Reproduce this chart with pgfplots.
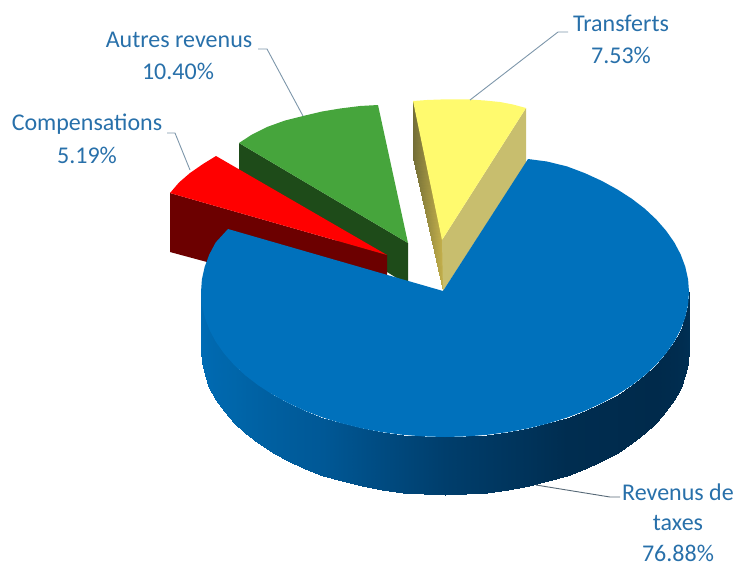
\documentclass[border=0pt]{standalone}
\usepackage{pgfplots}
\pgfplotsset{compat=1.18}
\usepackage{fontspec}
\setmainfont{Carlito}
\definecolor{lbl}{RGB}{40,112,170}
\definecolor{lead}{RGB}{125,150,170}
\definecolor{bluetop}{RGB}{0,113,188}
\definecolor{greentop}{RGB}{70,165,60}
\definecolor{greenside}{RGB}{30,75,25}
\definecolor{redside}{RGB}{108,0,0}
\definecolor{yellowtop}{RGB}{255,250,110}
\definecolor{yellowside}{RGB}{200,190,110}
\tikzset{lab/.style={font=\fontsize{24}{24}\selectfont, text=lbl, inner sep=0pt, anchor=center}}
\begin{document}
\begin{tikzpicture}
\begin{axis}[
  scale only axis, width=738pt, height=566pt,
  xmin=0, xmax=738, ymin=0, ymax=566, y dir=reverse,
  hide axis, clip=false,
  point meta min=0, point meta max=180,
  colormap={sidemap}{rgb255=(0,48,85) rgb255=(0,42,75) rgb255=(0,45,80) rgb255=(0,62,108) rgb255=(0,88,150) rgb255=(0,102,170) rgb255=(0,108,182)},
  colormap={ymap}{rgb255=(115,110,55) rgb255=(195,175,75)},
]
\addplot[draw=none, forget plot] coordinates {(0,0) (738,566)};
% green
\addplot[draw=none, fill=greenside, forget plot] coordinates {(239,143) (408,243) (408,285) (239,180)} -- cycle;
\addplot[draw=none, fill=greentop, forget plot] coordinates {(408,243) (239,143) (252,134.5) (267,127) (285,120.5) (303,116) (322,111.5) (340,108.5) (360,106) (378,105)} -- cycle;
% red
\addplot[draw=none, fill=redside, forget plot] coordinates {(170,193) (387,255) (387,280) (230,280) (207,262) (170,252)} -- cycle;
\addplot[draw=none, fill=red, forget plot] coordinates {(387,255) (170,193) (179,182.5) (190,173) (203,164) (216,156)} -- cycle;
% yellow
\addplot[patch, patch type=rectangle, shader=interp, point meta=explicit, colormap name=ymap, forget plot] coordinates {
 (413,101) [0] (442,240) [180] (443,291) [180] (413,158) [0]};
\addplot[draw=none, fill=yellowside, forget plot] coordinates {(442,240) (526,108) (526,163) (443,291)} -- cycle;
\addplot[draw=none, fill=yellowtop, forget plot] coordinates {(442,240) (413,101) (427,100) (440,99.5) (455,99.3) (470,99.5) (485,100.5) (500,102) (513,104.5) (526,108)} -- cycle;
% blue side
\addplot[patch, patch type=rectangle, shader=interp, point meta=explicit, colormap name=sidemap, forget plot] coordinates {
 (689,292) [0] (688.1,304.6) [5] (688.1,362.6) [5] (689,350) [0]
 (688.1,304.6) [5] (685.3,317.2) [10] (685.3,375.2) [10] (688.1,362.6) [5]
 (685.3,317.2) [10] (680.7,329.5) [15] (680.7,387.5) [15] (685.3,375.2) [10]
 (680.7,329.5) [15] (674.3,341.6) [20] (674.3,399.6) [20] (680.7,387.5) [15]
 (674.3,341.6) [20] (666.1,353.3) [25] (666.1,411.3) [25] (674.3,399.6) [20]
 (666.1,353.3) [25] (656.3,364.5) [30] (656.3,422.5) [30] (666.1,411.3) [25]
 (656.3,364.5) [30] (644.9,375.2) [35] (644.9,433.2) [35] (656.3,422.5) [30]
 (644.9,375.2) [35] (631.9,385.2) [40] (631.9,443.2) [40] (644.9,433.2) [35]
 (631.9,385.2) [40] (617.5,394.5) [45] (617.5,452.5) [45] (631.9,443.2) [40]
 (617.5,394.5) [45] (601.8,403.1) [50] (601.8,461.1) [50] (617.5,452.5) [45]
 (601.8,403.1) [50] (585,410.8) [55] (585,468.8) [55] (601.8,461.1) [50]
 (585,410.8) [55] (567,417.6) [60] (567,475.6) [60] (585,468.8) [55]
 (567,417.6) [60] (548.1,423.4) [65] (548.1,481.4) [65] (567,475.6) [60]
 (548.1,423.4) [65] (528.5,428.3) [70] (528.5,486.3) [70] (548.1,481.4) [65]
 (528.5,428.3) [70] (508.1,432.1) [75] (508.1,490.1) [75] (528.5,486.3) [70]
 (508.1,432.1) [75] (487.4,434.8) [80] (487.4,492.8) [80] (508.1,490.1) [75]
 (487.4,434.8) [80] (466.3,436.4) [85] (466.3,494.4) [85] (487.4,492.8) [80]
 (466.3,436.4) [85] (445,437) [90] (445,495) [90] (466.3,494.4) [85]
 (445,437) [90] (423.7,436.4) [95] (423.7,494.4) [95] (445,495) [90]
 (423.7,436.4) [95] (402.6,434.8) [100] (402.6,492.8) [100] (423.7,494.4) [95]
 (402.6,434.8) [100] (381.9,432.1) [105] (381.9,490.1) [105] (402.6,492.8) [100]
 (381.9,432.1) [105] (361.5,428.3) [110] (361.5,486.3) [110] (381.9,490.1) [105]
 (361.5,428.3) [110] (341.9,423.4) [115] (341.9,481.4) [115] (361.5,486.3) [110]
 (341.9,423.4) [115] (323,417.6) [120] (323,475.6) [120] (341.9,481.4) [115]
 (323,417.6) [120] (305,410.8) [125] (305,468.8) [125] (323,475.6) [120]
 (305,410.8) [125] (288.2,403.1) [130] (288.2,461.1) [130] (305,468.8) [125]
 (288.2,403.1) [130] (272.5,394.5) [135] (272.5,452.5) [135] (288.2,461.1) [130]
 (272.5,394.5) [135] (258.1,385.2) [140] (258.1,443.2) [140] (272.5,452.5) [135]
 (258.1,385.2) [140] (245.1,375.2) [145] (245.1,433.2) [145] (258.1,443.2) [140]
 (245.1,375.2) [145] (233.7,364.5) [150] (233.7,422.5) [150] (245.1,433.2) [145]
 (233.7,364.5) [150] (223.9,353.3) [155] (223.9,411.3) [155] (233.7,422.5) [150]
 (223.9,353.3) [155] (215.7,341.6) [160] (215.7,399.6) [160] (223.9,411.3) [155]
 (215.7,341.6) [160] (209.3,329.5) [165] (209.3,387.5) [165] (215.7,399.6) [160]
 (209.3,329.5) [165] (204.7,317.2) [170] (204.7,375.2) [170] (209.3,387.5) [165]
 (204.7,317.2) [170] (201.9,304.6) [175] (201.9,362.6) [175] (204.7,375.2) [170]
 (201.9,304.6) [175] (201,292) [180] (201,350) [180] (201.9,362.6) [175]
};
% blue top
\addplot[draw=none, fill=bluetop, forget plot] coordinates {
 (443,291) (528,159) (547,161.5) (567,166.4) (585,173.2) (601.8,180.9) (617.5,189.5) (631.9,198.8) (644.9,208.8) (656.3,219.5) (666.1,230.7) (674.3,242.4) (680.7,254.5) (685.3,266.8) (688.1,279.4) (689,292)
 (688.1,304.6) (685.3,317.2) (680.7,329.5) (674.3,341.6) (666.1,353.3) (656.3,364.5) (644.9,375.2) (631.9,385.2) (617.5,394.5) (601.8,403.1) (585,410.8) (567,417.6) (548.1,423.4) (528.5,428.3) (508.1,432.1) (487.4,434.8) (466.3,436.4) (445,437)
 (423.7,436.4) (402.6,434.8) (381.9,432.1) (361.5,428.3) (341.9,423.4) (323,417.6) (305,410.8) (288.2,403.1) (272.5,394.5) (258.1,385.2) (245.1,375.2) (233.7,364.5) (223.9,353.3) (215.7,341.6) (209.3,329.5) (204.7,317.2) (201.9,304.6) (201,292)
 (201.9,279.4) (204.7,266.8) (209.3,254.5) (215.7,242.4) (228,229)} -- cycle;
% leaders
\addplot[lead, line width=0.9pt, forget plot] coordinates {(258,49) (267,49) (303,116)};
\addplot[lead, line width=0.9pt, forget plot] coordinates {(167,133) (175,133) (190,170)};
\addplot[lead, line width=0.9pt, forget plot] coordinates {(470,100) (558,32) (568,32)};
\addplot[lead!70!black, line width=0.9pt, forget plot] coordinates {(536,485) (610,497) (620,497)};
% labels
\node[lab] at (axis cs:179,40) {Autres revenus};
\node[lab] at (axis cs:178,71) {10.40\%};
\node[lab] at (axis cs:87,124) {Compensations};
\node[lab] at (axis cs:87,155) {5.19\%};
\node[lab] at (axis cs:621,23) {Transferts};
\node[lab] at (axis cs:621,55) {7.53\%};
\node[lab] at (axis cs:678,492) {Revenus de};
\node[lab] at (axis cs:678,523) {taxes};
\node[lab] at (axis cs:678,553) {76.88\%};
\end{axis}
\end{tikzpicture}
\end{document}
